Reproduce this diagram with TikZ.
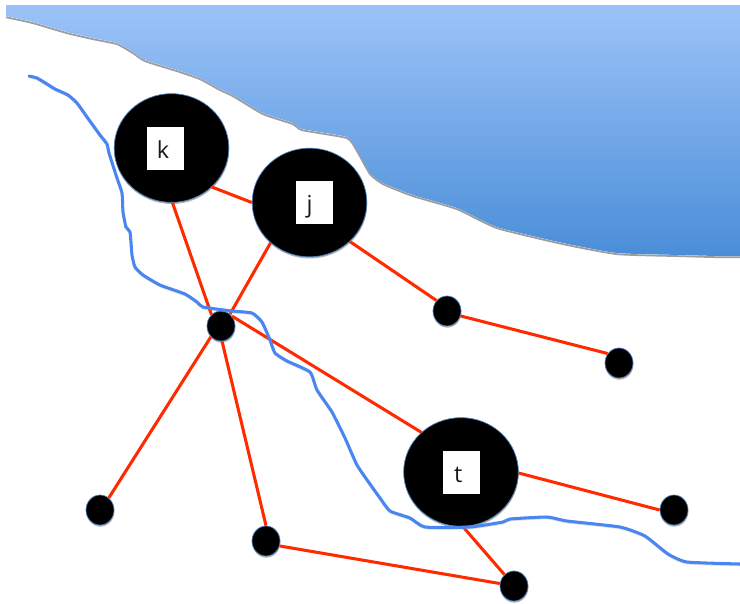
\documentclass[tikz,border=0pt]{standalone}
\usepackage{fontspec}
\setmainfont{Open Sans}
\usetikzlibrary{shadows,shapes.geometric}
\definecolor{waterTop}{HTML}{9CC3F8}
\definecolor{waterBot}{HTML}{4A8ED8}
\definecolor{river}{HTML}{4A86F2}
\definecolor{link}{HTML}{FF2A00}
\definecolor{rim}{HTML}{4F81BD}
\tikzset{
  x=0.03cm, y=-0.03cm,
  softshadow/.style={drop shadow={shadow xshift=0.3pt, shadow yshift=-1.4pt, fill=black, opacity=.3}},
  bignode/.style={ellipse, fill=black, draw=rim, line width=0.6pt, minimum width=3.44cm, minimum height=3.26cm, inner sep=0pt, softshadow},
  smallnode/.style={ellipse, fill=black, draw=rim, line width=0.6pt, minimum width=0.84cm, minimum height=0.9cm, inner sep=0pt, softshadow},
  labelbox/.style={fill=white, minimum width=1.11cm, minimum height=1.29cm, inner sep=0pt, font=\fontsize{20}{22}\selectfont, text=black!90},
  linkline/.style={draw=link, line width=2.6pt},
  riverline/.style={draw=river, line width=2.6pt, line join=round, line cap=round},
}
\newcommand{\boxtext}[2]{\makebox[0pt]{\kern#1\raisebox{-0.3cm}[0pt][0pt]{#2}}}
\newcommand{\shoreline}{(6,16) (33,22) (67,32) (93,38) (117,43) (133,52) (145,60) (177,70) (200,78) (220,89) (233,95) (263,113) (293,123) (302,129) (347,137) (357,150) (370,173) (383,183) (413,195) (457,208) (497,227) (563,243) (617,253) (680,255) (717,256) (740,256)}
\newcommand{\rivercourse}{(29,76) (37,78) (47,84) (55,89) (68,95) (77,103) (87,117) (100,135) (107,144) (109,153) (117,178) (122,193) (123,212) (126,227) (130,232) (132,255) (135,267) (143,275) (160,285) (185,294) (197,302) (203,307) (232,311) (252,313) (262,322) (270,340) (275,353) (287,361) (310,372) (317,390) (332,412) (345,438) (357,465) (370,484) (380,498) (390,511) (410,518) (425,527) (470,527) (503,522) (510,519) (547,517) (567,521) (620,527) (645,536) (668,554) (687,562) (740,564)}
\begin{document}
\begin{tikzpicture}
\useasboundingbox (0,0) rectangle (740,603);
% water
\begin{scope}[yshift=-1pt]
\draw[black!55, line width=1.5pt, opacity=.7] plot[smooth, tension=.3] coordinates {\shoreline};
\end{scope}
\path[top color=waterTop, bottom color=waterBot, shading angle=0]
  (6,5) -- (740,5) -- (740,256) -- plot[smooth, tension=.3] coordinates {(717,256) (680,255) (617,253) (563,243) (497,227) (457,208) (413,195) (383,183) (370,173) (357,150) (347,137) (302,129) (293,123) (263,113) (233,95) (220,89) (200,78) (177,70) (145,60) (133,52) (117,43) (93,38) (67,32) (33,22) (6,16)} -- cycle;
% nodes
\node[smallnode] (hub) at (221,326) {};
\node[smallnode] (a) at (447,311) {};
\node[smallnode] (b) at (619,363) {};
\node[smallnode] (c) at (100,510) {};
\node[smallnode] (d) at (266,541) {};
\node[smallnode] (e) at (514,586) {};
\node[smallnode] (f) at (674,510) {};
\node[bignode] (k) at (171.5,148) {};
\node[bignode] (j) at (309.5,202.5) {};
\node[bignode] (t) at (461,472) {};
% links
\draw[linkline] (k.-44) -- (j.180);
\draw[linkline] (k.-89) -- (hub.130);
\draw[linkline] (j.226) -- (hub.53);
\draw[linkline] (hub.42) -- (t.135);
\draw[linkline] (hub.227) -- (c.54);
\draw[linkline] (hub.-86) -- (d.90);
\draw[linkline] (d.-20) -- (e.170);
\draw[linkline] (j.-44) -- (a.135);
\draw[linkline] (a.-20) -- (b.140);
\draw[linkline] (t.-1) -- (f.180);
\draw[linkline] (t.-88) -- (e.130);
% labels
\node[labelbox] (kl) at (165.5,148.5) {\boxtext{-0.15cm}{k}};
\node[labelbox] (jl) at (314.5,202.5) {\boxtext{-0.3cm}{j}};
\node[labelbox] (tl) at (461.5,472.5) {\boxtext{-0.2cm}{t}};
% river
\begin{scope}[yshift=-1pt]
\draw[black!40, line width=2pt, opacity=.3, line cap=round] plot[smooth, tension=.3] coordinates {\rivercourse};
\end{scope}
\draw[riverline] plot[smooth, tension=.3] coordinates {\rivercourse};
\end{tikzpicture}
\end{document}
